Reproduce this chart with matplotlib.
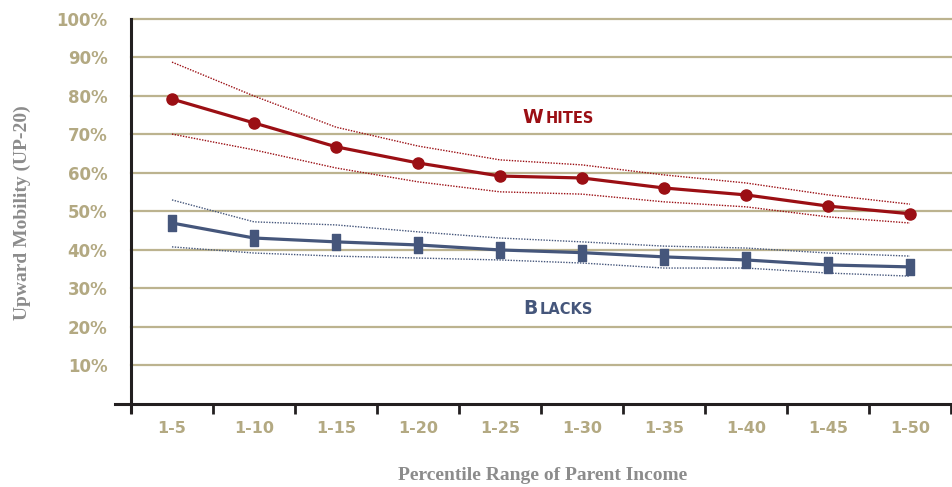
import matplotlib
matplotlib.use("Agg")
import matplotlib.pyplot as plt
from matplotlib.path import Path
from matplotlib.offsetbox import TextArea, HPacker, AnnotationBbox
from matplotlib.lines import Line2D

categories = ["1-5", "1-10", "1-15", "1-20", "1-25", "1-30", "1-35", "1-40", "1-45", "1-50"]
whites = [79.2, 73.0, 66.8, 62.6, 59.2, 58.7, 56.1, 54.3, 51.4, 49.4]
whites_upper = [88.8, 80.0, 71.9, 67.0, 63.4, 62.1, 59.5, 57.4, 54.3, 51.9]
whites_lower = [70.1, 66.0, 61.3, 57.7, 55.1, 54.5, 52.5, 51.2, 48.6, 47.0]
blacks = [47.0, 43.1, 42.1, 41.3, 40.0, 39.3, 38.2, 37.4, 36.1, 35.6]
blacks_upper = [53.0, 47.3, 46.5, 44.7, 43.1, 42.1, 41.0, 40.5, 39.2, 38.4]
blacks_lower = [40.8, 39.2, 38.4, 37.9, 37.4, 36.6, 35.3, 35.3, 34.0, 33.2]
yticks = [10, 20, 30, 40, 50, 60, 70, 80, 90, 100]
ytick_labels = ["10%", "20%", "30%", "40%", "50%", "60%", "70%", "80%", "90%", "100%"]

RED = "#9b0f14"
BLUE = "#45567b"
GOLD = "#b3a982"
GRID = "#bcb38f"
AXIS = "#231f20"

fig = plt.figure(figsize=(9.52, 4.87), dpi=100)
ax = fig.add_axes([131/952, (487-412)/487, (951-131)/952, (412-19)/487])
x = list(range(len(categories)))

ax.set_xlim(-0.5, len(categories) - 0.5)
ax.set_ylim(-2.1, 100)

for yv in yticks:
    ax.axhline(yv, color=GRID, lw=1.6, zorder=1, clip_on=False)

dot = (0, (1, 1))
ax.plot(x, whites_upper, color=RED, lw=1.0, ls=dot, zorder=2)
ax.plot(x, whites_lower, color=RED, lw=1.0, ls=dot, zorder=2)
ax.plot(x, blacks_upper, color=BLUE, lw=1.0, ls=dot, zorder=2)
ax.plot(x, blacks_lower, color=BLUE, lw=1.0, ls=dot, zorder=2)

rect = Path([(-0.25, -0.5), (0.25, -0.5), (0.25, 0.5), (-0.25, 0.5), (-0.25, -0.5)],
            [Path.MOVETO, Path.LINETO, Path.LINETO, Path.LINETO, Path.CLOSEPOLY])
ax.plot(x, whites, color=RED, lw=2.3, marker="o", ms=8, zorder=4)
ax.plot(x, blacks, color=BLUE, lw=2.3, marker=rect, ms=11, zorder=4)

# spines
for s in ["top", "right"]:
    ax.spines[s].set_visible(False)
ax.spines["left"].set_color(AXIS)
ax.spines["left"].set_linewidth(2.2)
ax.spines["left"].set_zorder(5)
ax.spines["bottom"].set_position(("data", 0))
ax.spines["bottom"].set_color(AXIS)
ax.spines["bottom"].set_linewidth(2.2)
ax.add_line(Line2D([-0.02, 0.0], [2.1/102.1, 2.1/102.1], transform=ax.transAxes,
                   color=AXIS, lw=2.2, clip_on=False))

# x ticks: major at boundaries, minor labels at centers
ax.set_xticks([i - 0.5 for i in range(len(categories) + 1)])
ax.set_xticklabels([])
ax.tick_params(axis="x", which="major", direction="out", length=7, width=2, color=AXIS)
ax.set_xticks(x, minor=True)
ax.set_xticklabels(categories, minor=True)
ax.tick_params(axis="x", which="minor", length=0, pad=12, labelsize=11.5, labelcolor=GOLD)
for lab in ax.get_xticklabels(minor=True):
    lab.set_fontweight("bold")

ax.set_yticks(yticks)
ax.set_yticklabels(ytick_labels)
ax.tick_params(axis="y", length=0, pad=17, labelsize=12, labelcolor=GOLD)
for lab in ax.get_yticklabels():
    lab.set_fontweight("bold")

fig.text(22/952, 1 - 213/487, "Upward Mobility (UP-20)", rotation=90, ha="center", va="center",
         family="Liberation Serif", fontweight="bold", fontsize=14, color="#8c8c8c")
fig.text(543/952, 1 - 476/487, "Percentile Range of Parent Income", ha="center", va="center",
         family="Liberation Serif", fontweight="bold", fontsize=14, color="#8c8c8c")

def smallcaps(first, rest, color, xy):
    t1 = TextArea(first, textprops=dict(color=color, fontsize=13.5, fontweight="bold", family="DejaVu Sans"))
    t2 = TextArea(rest, textprops=dict(color=color, fontsize=10.5, fontweight="bold", family="DejaVu Sans"))
    box = HPacker(children=[t1, t2], align="baseline", pad=0, sep=1.5)
    ab = AnnotationBbox(box, xy, xycoords="data", frameon=False, box_alignment=(0.5, 0.5))
    ax.add_artist(ab)

smallcaps("W", "HITES", RED, (4.71, 74.3))
smallcaps("B", "LACKS", BLUE, (4.71, 24.9))

fig.savefig("out.png", dpi=100)
